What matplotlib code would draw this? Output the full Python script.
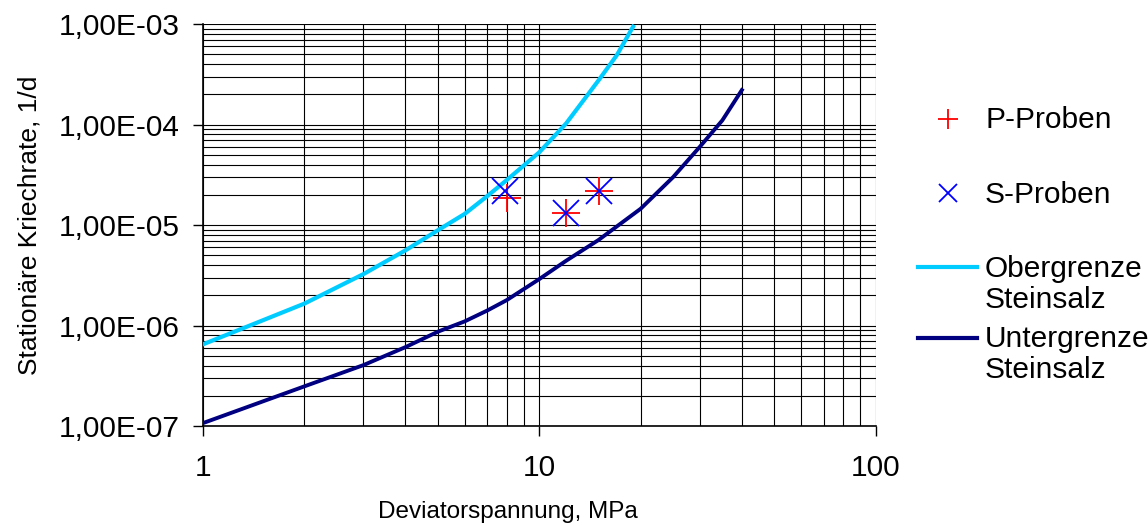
import numpy as np
import matplotlib.pyplot as plt
from matplotlib.ticker import FixedLocator, FuncFormatter
from matplotlib.lines import Line2D

plt.rcParams['font.family'] = ['Liberation Sans', 'DejaVu Sans']

# Obergrenze Steinsalz (upper bound)
ober_x = [1, 2, 3, 4, 5, 6, 7, 8, 10, 12, 15, 17, 19]
ober_y = [6.5e-7, 1.65e-6, 3.25e-6, 5.6e-6, 8.9e-6, 1.29e-5, 1.94e-5, 2.8e-5,
          5.3e-5, 1.02e-4, 2.75e-4, 4.9e-4, 9.4e-4]

# Untergrenze Steinsalz (lower bound)
unter_x = [1, 2, 3, 4, 5, 6, 7, 8, 10, 12, 15, 20, 25, 30, 35, 40]
unter_y = [1.07e-7, 2.48e-7, 4.04e-7, 6.1e-7, 8.7e-7, 1.1e-6, 1.41e-6, 1.79e-6,
           2.9e-6, 4.4e-6, 7.1e-6, 1.45e-5, 3.0e-5, 6.0e-5, 1.1e-4, 2.2e-4]

# test specimens
p_x = [8.0, 12.0, 15.0]
p_y = [1.84e-5, 1.31e-5, 2.19e-5]
s_x = [7.9, 12.0, 15.0]
s_y = [2.2e-5, 1.31e-5, 2.19e-5]

W, H = 1148, 526
fig = plt.figure(figsize=(W / 100, H / 100), dpi=100)
ax = fig.add_axes([0.1768, 0.190, 0.586, 0.7644])


def fx(px):
    return px / W


def fy(py):
    return 1 - py / H


ax.set_xscale('log')
ax.set_yscale('log')
ax.set_xlim(1, 100)
ax.set_ylim(1e-7, 1e-3)

# grid on all decades and sub-decades
ax.grid(True, which='both', color='black', linewidth=0.8)
ax.set_axisbelow(True)

cyan = '#00CCFF'
navy = '#000080'
ax.plot(ober_x, ober_y, color=cyan, linewidth=3, zorder=3)
ax.plot(unter_x, unter_y, color=navy, linewidth=2.8, zorder=3)
ax.plot(p_x, p_y, linestyle='none', marker='+', color='red', markersize=20,
        markeredgewidth=1.3, zorder=4)
ax.plot(s_x, s_y, linestyle='none', marker='x', color='blue', markersize=19,
        markeredgewidth=1.3, zorder=4)

ax.xaxis.set_major_locator(FixedLocator([1, 10, 100]))
ax.xaxis.set_major_formatter(FuncFormatter(lambda v, p: '%d' % v))
ax.yaxis.set_major_locator(FixedLocator([1e-7, 1e-6, 1e-5, 1e-4, 1e-3]))
ax.yaxis.set_major_formatter(FuncFormatter(
    lambda v, p: ('%.2E' % v).replace('.', ',')))
ax.tick_params(axis='both', which='major', direction='out', length=7,
               width=1, labelsize=21.5)
ax.tick_params(axis='x', pad=13)
ax.tick_params(axis='y', pad=10)
ax.tick_params(axis='both', which='minor', length=0)

for s in ['top', 'right']:
    ax.spines[s].set_visible(False)
for s in ['left', 'bottom']:
    ax.spines[s].set_linewidth(1.2)

ax.set_xlabel('Deviatorspannung, MPa', fontsize=17.5)
ax.xaxis.set_label_coords(0.453, -0.187)
ax.set_ylabel('Stationäre Kriechrate, 1/d', fontsize=19, labelpad=12)

# legend, drawn by hand so the line keys sit on the first text row
fs_leg = 21.5
fig.add_artist(Line2D([fx(948)], [fy(119)], transform=fig.transFigure,
                      marker='+', color='red', markersize=14.5, markeredgewidth=1.3))
fig.add_artist(Line2D([fx(948)], [fy(193)], transform=fig.transFigure,
                      marker='x', color='blue', markersize=13.5, markeredgewidth=1.3))
fig.add_artist(Line2D([fx(918), fx(977)], [fy(267), fy(267)], transform=fig.transFigure,
                      color=cyan, linewidth=3))
fig.add_artist(Line2D([fx(918), fx(977)], [fy(338), fy(338)], transform=fig.transFigure,
                      color=navy, linewidth=3))
leg_rows = [('P-Proben', 128), ('S-Proben', 203), ('Obergrenze', 277),
            ('Steinsalz', 308), ('Untergrenze', 347), ('Steinsalz', 378)]
for txt, base in leg_rows:
    fig.text(fx(985), fy(base), txt, fontsize=fs_leg, va='baseline', ha='left')

fig.savefig('out.png', dpi=100)
